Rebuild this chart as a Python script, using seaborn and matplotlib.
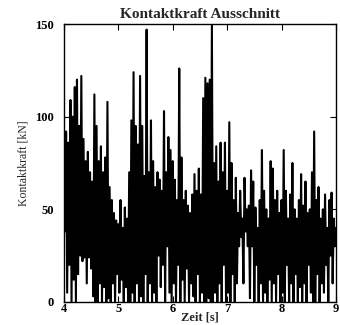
import numpy as np
import pandas as pd
import matplotlib
matplotlib.use('Agg')
import matplotlib.pyplot as plt
import seaborn as sns

# Kontaktkraft values, alternating peak / trough,
# one value every 0.02 s from 4 s to 9 s (each row = 0.2 s)
kraft = [
    45, 38, 92, 5, 86, 20, 109, 0, 100, 12,
    116, 0, 120, 15, 95, 25, 122, 22, 88, 24,
    76, 10, 81, 24, 70, 18, 65, 3, 112, 0,
    95, 0, 76, 10, 84, 0, 70, 8, 78, 0,
    108, 2, 62, 0, 55, 10, 48, 0, 44, 15,
    42, 5, 55, 12, 40, 0, 51, 8, 45, 0,
    70, 0, 98, 5, 124, 0, 95, 10, 85, 0,
    122, 3, 95, 0, 68, 15, 147, 0, 70, 10,
    98, 0, 76, 5, 62, 0, 70, 25, 66, 8,
    60, 20, 103, 0, 70, 30, 89, 5, 82, 0,
    76, 10, 66, 0, 55, 20, 126, 0, 78, 12,
    55, 0, 60, 18, 52, 0, 48, 10, 58, 3,
    69, 0, 60, 15, 72, 0, 58, 5, 110, 0,
    121, 0, 118, 2, 120, 0, 150, 0, 75, 5,
    84, 0, 65, 10, 86, 0, 70, 20, 86, 0,
    60, 5, 97, 0, 75, 15, 55, 0, 67, 10,
    48, 30, 60, 35, 45, 10, 67, 38, 50, 30,
    52, 2, 71, 30, 65, 0, 51, 20, 40, 0,
    55, 10, 82, 0, 60, 5, 50, 0, 45, 12,
    76, 0, 72, 10, 55, 0, 60, 15, 48, 0,
    55, 5, 82, 0, 60, 20, 45, 0, 58, 10,
    75, 0, 50, 15, 45, 0, 55, 8, 69, 0,
    52, 10, 65, 0, 48, 20, 50, 5, 70, 0,
    92, 0, 55, 15, 62, 0, 45, 10, 50, 5,
    58, 20, 40, 0, 55, 25, 59, 10, 45, 30,
    40,
]
t_start, t_end = 4, 9
x_ticks = [4, 5, 6, 7, 8, 9]
y_ticks = [0, 50, 100, 150]

df = pd.DataFrame({'zeit': np.linspace(t_start, t_end, len(kraft)), 'kraft': kraft})

sns.set_style('ticks')
plt.rcParams['font.family'] = ['Liberation Serif', 'DejaVu Serif']

fig = plt.figure(figsize=(3.4, 3.25), dpi=100)
ax = fig.add_axes([0.188, 0.071, 0.8, 0.855])
sns.lineplot(data=df, x='zeit', y='kraft', color='black', lw=1.5, ax=ax)

ax.set_xlim(t_start, t_end)
ax.set_ylim(0, 150)
ax.set_xticks(x_ticks)
ax.set_yticks(y_ticks)
ax.tick_params(direction='in', length=4, width=0.8, top=True, right=True,
               labelsize=9, colors='black')
ax.tick_params(axis='y', pad=7)
ax.tick_params(axis='x', pad=1)
for lab in ax.get_xticklabels() + ax.get_yticklabels():
    lab.set_fontweight('bold')
for sp in ax.spines.values():
    sp.set_visible(True)
    sp.set_linewidth(1.0)
    sp.set_color('black')

ax.set_title('Kontaktkraft Ausschnitt', fontsize=11, fontweight='bold', pad=4)
ax.set_xlabel('Zeit [s]', fontsize=9, fontweight='bold', labelpad=-2.5)
ax.set_ylabel('Kontaktkraft [kN]', fontsize=8.5, labelpad=4)

fig.savefig('out.png', dpi=100)
